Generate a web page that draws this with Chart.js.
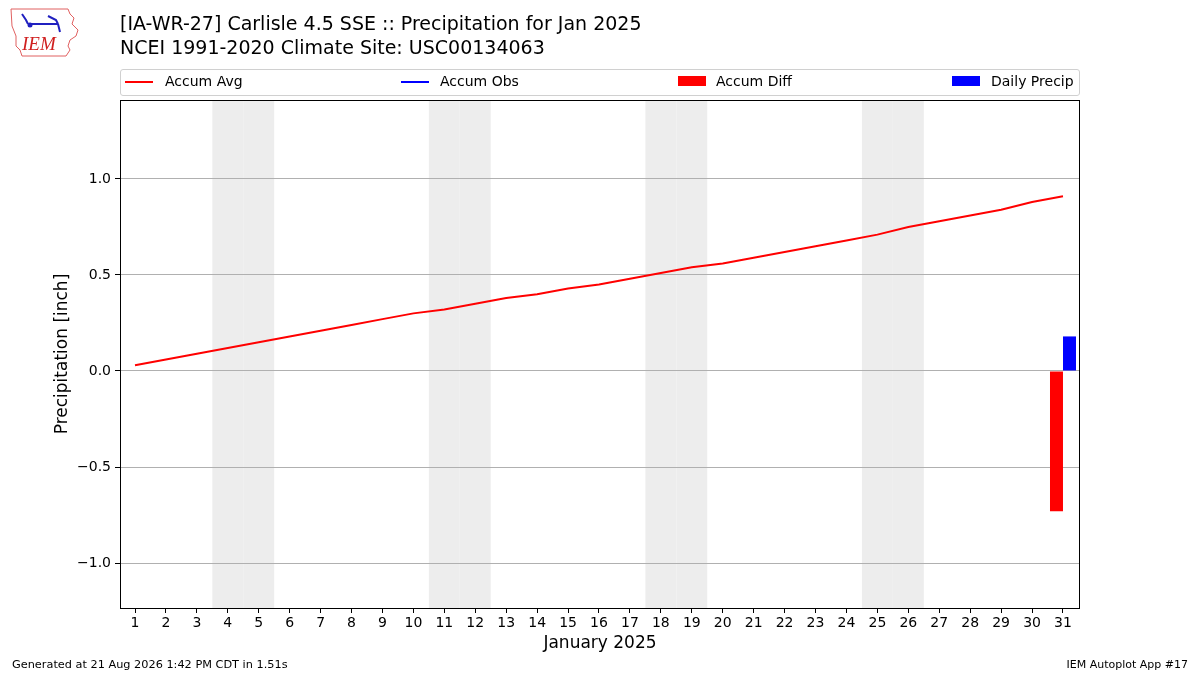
<!doctype html>
<html lang="en">
    <head>
        <meta charset="utf-8">
        <script src="https://cdn.jsdelivr.net/npm/chart.js"></script>
        <title>Carlisle 4.5 SSE Precipitation Jan 2025</title>
        <style>
        html, body {
            margin: 0;
            padding: 0;
            background-color: #ffffff;
            font-family: "DejaVu Sans", sans-serif;
        }
        #wrap {
            position: relative;
            width: 1200px;
            height: 675px;
            overflow: hidden;
        }
        #chart {
            position: absolute;
            left: 0;
            top: 0;
        }
        .txt {
            position: absolute;
            white-space: nowrap;
            color: #000;
        }
        #title1 { left: 120px; top: 12px; font-size: 19px; }
        #title2 { left: 120px; top: 36px; font-size: 19px; }
        #legend {
            position: absolute;
            left: 120px;
            top: 69px;
            width: 958px;
            height: 25px;
            border: 1px solid #d0d0d0;
            border-radius: 3px;
            font-size: 14px;
        }
        .item { position: absolute; top: 3px; white-space: nowrap; }
        .hline { position: absolute; width: 28px; height: 2px; }
        .patch { position: absolute; width: 28px; height: 10px; }
        #foot1 { left: 12px; top: 658px; font-size: 11.3px; }
        #foot2 { right: 12px; top: 658px; font-size: 11px; }
        #logo { position: absolute; left: 8px; top: 6px; }
        </style>
    </head>
    <body>
        <div id="wrap">
            <canvas id="chart" width="1200" height="675"></canvas>
            <svg id="logo" width="72" height="54" viewBox="0 0 72 54">
                <path d="M3,3 L60,3 L62,8 L66,12 L64,18 L70,24 L68,30 L62,34 L60,40 L62,44 L58,50 L14,50 L12,44 L8,40 L8,30 L4,20 Z"
                      fill="none" stroke="#e06060" stroke-width="1"/>
                <path d="M14,8 L18,14 L20,18 M22,18 L50,18 M40,10 L48,14 L50,18 M50,18 L52,26" stroke="#2020c0" stroke-width="2" fill="none"/>
                <circle cx="22" cy="19" r="2.5" fill="#2020c0"/>
                <text x="14" y="44" font-family="Liberation Serif, serif" font-style="italic" font-size="19" fill="#d02020">IEM</text>
            </svg>
            <div class="txt" id="title1">[IA-WR-27] Carlisle 4.5 SSE :: Precipitation for Jan 2025</div>
            <div class="txt" id="title2">NCEI 1991-2020 Climate Site: USC00134063</div>
            <div id="legend"></div>
            <div class="txt" id="foot1">Generated at 21 Aug 2026 1:42 PM CDT in 1.51s</div>
            <div class="txt" id="foot2">IEM Autoplot App #17</div>
        </div>
        <script>
        // days of January 2025
        const days = [1, 2, 3, 4, 5, 6, 7, 8, 9, 10, 11, 12, 13, 14, 15, 16,
                      17, 18, 19, 20, 21, 22, 23, 24, 25, 26, 27, 28, 29, 30, 31];

        // NCEI 1991-2020 accumulated average precip [inch]
        const accumAvg = [0.03, 0.06, 0.09, 0.12, 0.15, 0.18, 0.21, 0.24, 0.27, 0.30,
                          0.32, 0.35, 0.38, 0.40, 0.43, 0.45, 0.48, 0.51, 0.54, 0.56,
                          0.59, 0.62, 0.65, 0.68, 0.71, 0.75, 0.78, 0.81, 0.84, 0.88, 0.91];

        // observations only reported on the 31st
        const accumObs = [null, null, null, null, null, null, null, null, null, null,
                          null, null, null, null, null, null, null, null, null, null,
                          null, null, null, null, null, null, null, null, null, null, 0.18];
        const accumDiff = [null, null, null, null, null, null, null, null, null, null,
                           null, null, null, null, null, null, null, null, null, null,
                           null, null, null, null, null, null, null, null, null, null, -0.73];
        const dailyPrecip = [null, null, null, null, null, null, null, null, null, null,
                             null, null, null, null, null, null, null, null, null, null,
                             null, null, null, null, null, null, null, null, null, null, 0.18];

        const yTickValues = [-1.0, -0.5, 0.0, 0.5, 1.0];
        const seriesNames = ['Accum Avg', 'Accum Obs', 'Accum Diff', 'Daily Precip'];

        // weekend days (Sat/Sun) in Jan 2025
        const weekendDays = days.filter(d => {
            const wd = new Date(2025, 0, d).getDay();
            return wd === 0 || wd === 6;
        });

        const pts = arr => days.map((d, i) => ({ x: d, y: arr[i] }));

        // legend built as html, spread across the box like matplotlib's expand mode
        const legendEl = document.getElementById('legend');
        const legendItems = [
            { kind: 'hline', color: '#ff0000', left: 4, textLeft: 44 },
            { kind: 'hline', color: '#0000ff', left: 280, textLeft: 319 },
            { kind: 'patch', color: '#ff0000', left: 557, textLeft: 595 },
            { kind: 'patch', color: '#0000ff', left: 831, textLeft: 870 }
        ];
        legendItems.forEach((it, i) => {
            const h = document.createElement('div');
            h.className = it.kind;
            h.style.left = it.left + 'px';
            h.style.background = it.color;
            h.style.top = (it.kind === 'hline' ? 11 : 6) + 'px';
            legendEl.appendChild(h);
            const t = document.createElement('div');
            t.className = 'item';
            t.style.left = it.textLeft + 'px';
            t.textContent = seriesNames[i];
            legendEl.appendChild(t);
        });

        const frame = {
            id: 'frame',
            beforeDraw(chart) {
                const { ctx, chartArea: a, scales: { x } } = chart;
                ctx.save();
                ctx.fillStyle = '#ffffff';
                ctx.fillRect(0, 0, chart.width, chart.height);
                ctx.fillStyle = '#ededed';
                weekendDays.forEach(d => {
                    const x0 = x.getPixelForValue(d - 0.5);
                    const x1 = x.getPixelForValue(d + 0.5);
                    ctx.fillRect(x0, a.top, x1 - x0, a.bottom - a.top);
                });
                ctx.restore();
            },
            afterDraw(chart) {
                const { ctx, chartArea: a } = chart;
                ctx.save();
                ctx.strokeStyle = '#000000';
                ctx.lineWidth = 1;
                ctx.strokeRect(Math.round(a.left) + 0.5, Math.round(a.top) + 0.5,
                               Math.round(a.right - a.left) - 1, Math.round(a.bottom - a.top));
                ctx.restore();
            }
        };

        const tickFont = { family: 'DejaVu Sans', size: 14 };

        new Chart(document.getElementById('chart'), {
            type: 'bar',
            data: {
                datasets: [
                    {
                        type: 'line', label: seriesNames[0], data: pts(accumAvg),
                        borderColor: '#ff0000', borderWidth: 2, pointRadius: 0, order: 1
                    },
                    {
                        type: 'line', label: seriesNames[1], data: pts(accumObs),
                        borderColor: '#0000ff', borderWidth: 2, pointRadius: 0, order: 1
                    },
                    {
                        label: seriesNames[2], data: pts(accumDiff),
                        backgroundColor: '#ff0000', order: 2
                    },
                    {
                        label: seriesNames[3], data: pts(dailyPrecip),
                        backgroundColor: '#0000ff', order: 2
                    }
                ]
            },
            options: {
                responsive: false,
                animation: false,
                devicePixelRatio: 1,
                layout: { padding: { left: 0, right: 120, top: 100, bottom: 0 } },
                datasets: {
                    bar: { categoryPercentage: 0.84, barPercentage: 1.0, grouped: true }
                },
                plugins: {
                    legend: { display: false },
                    tooltip: { enabled: false }
                },
                scales: {
                    x: {
                        type: 'linear',
                        offset: false,
                        min: 0.515,
                        max: 31.55,
                        afterBuildTicks: s => { s.ticks = days.map(v => ({ value: v })); },
                        afterFit: s => { s.height = 67; },
                        grid: {
                            offset: false,
                            drawOnChartArea: false, drawTicks: true,
                            tickLength: 5, tickColor: '#000000'
                        },
                        border: { display: false },
                        ticks: {
                            font: tickFont, color: '#000000', padding: 2,
                            maxRotation: 0, autoSkip: false,
                            callback: v => String(v)
                        },
                        title: {
                            display: true, text: 'January 2025', color: '#000000',
                            font: { family: 'DejaVu Sans', size: 17 },
                            padding: { top: 0, bottom: 21 }
                        }
                    },
                    y: {
                        min: -1.234,
                        max: 1.411,
                        afterBuildTicks: s => { s.ticks = yTickValues.map(v => ({ value: v })); },
                        afterFit: s => { s.width = 120; },
                        grid: {
                            color: '#b0b0b0', lineWidth: 1,
                            tickLength: 5, tickColor: '#000000'
                        },
                        border: { display: false },
                        ticks: {
                            font: tickFont, color: '#000000', padding: 4,
                            callback: v => (v < 0 ? '\u2212' : '') + Math.abs(v).toFixed(1)
                        },
                        title: {
                            display: true, text: 'Precipitation [inch]', color: '#000000',
                            font: { family: 'DejaVu Sans', size: 17 },
                            padding: { top: 52, bottom: 0 }
                        }
                    }
                }
            },
            plugins: [frame]
        });
        </script>
    </body>
</html>
